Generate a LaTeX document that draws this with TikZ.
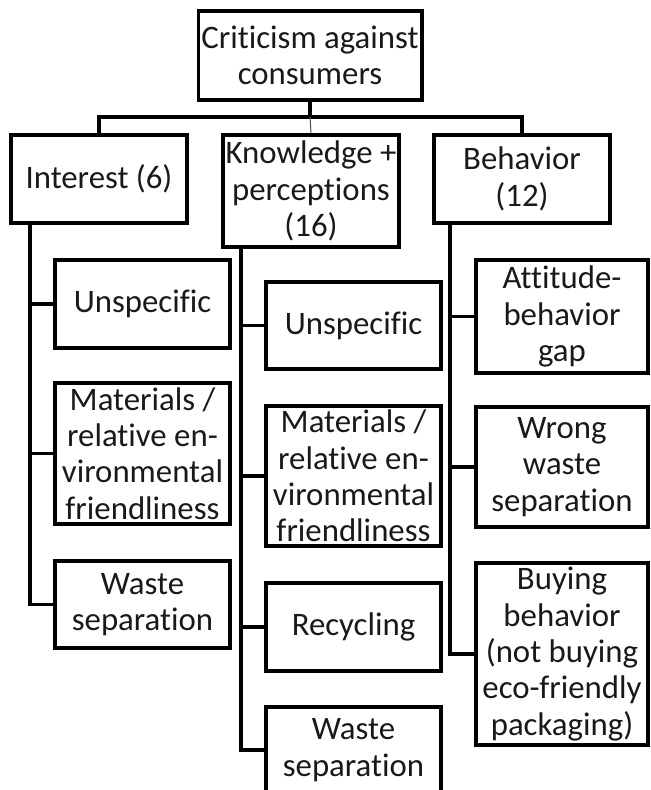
\documentclass[tikz,border=0pt]{standalone}
\usepackage{fontspec}
\setmainfont{Carlito}[Ligatures=NoCommon]
\begin{document}
\begin{tikzpicture}[x=0.5pt,y=-0.5pt,
  box/.style={draw=black,line width=1.75pt,inner sep=0pt,align=center,
    font=\fontsize{16.4}{18.2}\selectfont,text=black!90},
  conn/.style={line width=1.75pt,black},
  thinconn/.style={line width=0.5pt,black!70}]
\useasboundingbox (0,0) rectangle (651,790);
\clip (0,0) rectangle (651,790);
% top level
\node[box,minimum width=111.75pt,minimum height=44.5pt] (root) at (310,55.5) {Criticism against\\consumers};
\node[box,minimum width=88pt,minimum height=44pt] (interest) at (99,179) {Interest (6)};
\node[box,minimum width=88pt,minimum height=56pt] (knowledge) at (311,191) {Knowledge +\\perceptions\\(16)};
\node[box,minimum width=88pt,minimum height=44pt] (behavior) at (522,179) {Behavior\\(12)};
\coordinate (bar) at (310,117);
\draw[conn] (root.south) -- (bar);
\draw[conn] (interest.north) |- (bar) -| (behavior.north);
\draw[thinconn] (bar) -- (knowledge.north);
% interest column
\node[box,minimum width=87.5pt,minimum height=44pt] (i1) at (142.5,304) {Unspecific};
\node[box,minimum width=87.5pt,minimum height=70.5pt] (i2) at (142.5,453.5) {Materials /\\relative en-\\vironmental\\friendliness};
\node[box,minimum width=87.5pt,minimum height=43.5pt] (i3) at (142.5,604.5) {Waste\\separation};
\coordinate (ispine) at (30,223);
\draw[conn] (ispine) |- (i3.west);
\draw[conn] (i1.west -| ispine) -- (i1.west);
\draw[conn] (i2.west -| ispine) -- (i2.west);
% knowledge column
\node[box,minimum width=87.5pt,minimum height=43.5pt] (k1) at (353.5,325.5) {Unspecific};
\node[box,minimum width=87.5pt,minimum height=70pt] (k2) at (353.5,476) {Materials /\\relative en-\\vironmental\\friendliness};
\node[box,minimum width=87.5pt,minimum height=44pt] (k3) at (353.5,627) {Recycling};
\node[box,minimum width=87.5pt,minimum height=43pt] (k4) at (353.5,750) {Waste\\separation};
\coordinate (kspine) at (241,247);
\draw[conn] (kspine) |- (k4.west);
\draw[conn] (k1.west -| kspine) -- (k1.west);
\draw[conn] (k2.west -| kspine) -- (k2.west);
\draw[conn] (k3.west -| kspine) -- (k3.west);
% behavior column
\node[box,minimum width=86pt,minimum height=56.5pt] (b1) at (562,316.5) {Attitude-\\behavior\\gap};
\node[box,minimum width=86pt,minimum height=60pt] (b2) at (562,467) {Wrong\\waste\\separation};
\node[box,minimum width=86pt,minimum height=91pt] (b3) at (562,654) {Buying\\behavior\\(not buying\\eco-friendly\\packaging)};
\coordinate (bspine) at (450,223);
\draw[conn] (bspine) |- (b3.west);
\draw[conn] (b1.west -| bspine) -- (b1.west);
\draw[conn] (b2.west -| bspine) -- (b2.west);
\end{tikzpicture}
\end{document}
